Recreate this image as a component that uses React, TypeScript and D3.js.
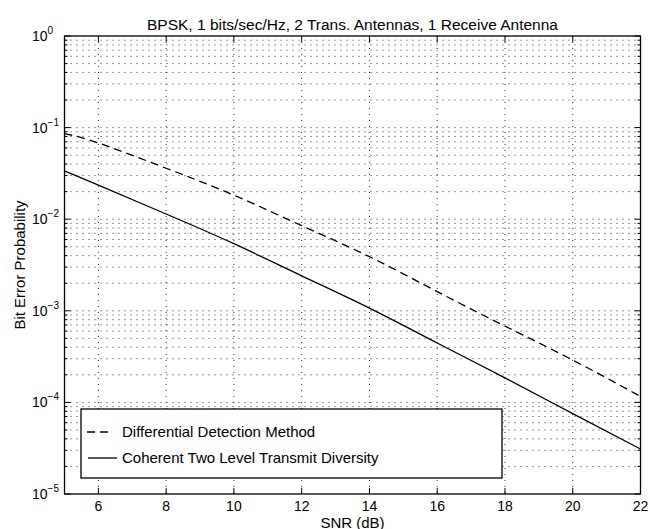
import React from "react";
import * as d3 from "d3";

const snr = [5, 6, 8, 10, 12, 14, 16, 18, 20, 22];
const differential = [0.086, 0.068, 0.036, 0.0183, 0.0085, 0.0039, 0.00162, 0.00068, 0.00029, 0.000116];
const coherent = [0.0337, 0.0235, 0.0114, 0.0054, 0.00241, 0.00107, 0.000445, 0.000185, 0.0000755, 0.000031];
const xTicks = [6, 8, 10, 12, 14, 16, 18, 20, 22];
const yExponents = [0, -1, -2, -3, -4, -5];
const title = "BPSK, 1 bits/sec/Hz, 2 Trans. Antennas, 1 Receive Antenna";
const xLabel = "SNR (dB)";
const yLabel = "Bit Error Probability";
const legendLabels = ["Differential Detection Method", "Coherent Two Level Transmit Diversity"];

const W = 650, H = 529;
const L = 64.5, R = 640.5, T = 36, B = 494;
const FONT = "'Liberation Sans', Arial, Helvetica, sans-serif";

export default function App() {
  const x = d3.scaleLinear().domain([5, 22]).range([L, R]);
  const y = d3.scaleLog().domain([1e-5, 1]).range([B, T]);

  const minorVals: number[] = [];
  for (let e = -5; e < 0; e++) {
    for (let m = 2; m <= 9; m++) minorVals.push(m * Math.pow(10, e));
  }
  const majorVals = yExponents.map((e) => Math.pow(10, e));

  const line = d3
    .line<number>()
    .x((_, i) => x(snr[i]))
    .y((d) => y(d))
    .curve(d3.curveNatural);

  const gridStyle = { stroke: "#333", strokeWidth: 1, strokeDasharray: "1,5" };

  return (
    <svg
      width={W}
      height={H}
      style={{ position: "absolute", left: 0, top: 0, background: "#fff" }}
      fontFamily={FONT}
    >
      <rect x={0} y={0} width={W} height={H} fill="#fff" />
      {/* grid */}
      {xTicks
        .filter((t) => t < 22)
        .map((t) => (
          <line key={"gx" + t} x1={x(t)} x2={x(t)} y1={T} y2={B} {...gridStyle} />
        ))}
      {[...minorVals, ...majorVals.filter((v) => v < 1 && v > 1e-5)].map((v, i) => (
        <line key={"gy" + i} x1={L} x2={R} y1={y(v)} y2={y(v)} {...gridStyle} />
      ))}
      {/* ticks */}
      {xTicks.map((t) => (
        <g key={"tx" + t}>
          <line x1={x(t)} x2={x(t)} y1={B} y2={B - 6} stroke="#000" />
          <line x1={x(t)} x2={x(t)} y1={T} y2={T + 6} stroke="#000" />
        </g>
      ))}
      {majorVals.map((v, i) => (
        <g key={"ty" + i}>
          <line x1={L} x2={L + 6} y1={y(v)} y2={y(v)} stroke="#000" />
          <line x1={R} x2={R - 6} y1={y(v)} y2={y(v)} stroke="#000" />
        </g>
      ))}
      {minorVals.map((v, i) => (
        <g key={"tm" + i}>
          <line x1={L} x2={L + 3} y1={y(v)} y2={y(v)} stroke="#000" />
          <line x1={R} x2={R - 3} y1={y(v)} y2={y(v)} stroke="#000" />
        </g>
      ))}
      {/* curves */}
      <path d={line(differential) || ""} fill="none" stroke="#000" strokeWidth={1.3} strokeDasharray="8,5" />
      <path d={line(coherent) || ""} fill="none" stroke="#000" strokeWidth={1.3} />
      {/* box */}
      <rect x={L} y={T} width={R - L} height={B - T} fill="none" stroke="#000" strokeWidth={1.3} />
      {/* legend */}
      <rect x={81} y={409} width={421} height={69} fill="#fff" stroke="#000" strokeWidth={1.3} />
      <line x1={87} x2={111} y1={432} y2={432} stroke="#000" strokeWidth={1.3} strokeDasharray="8,5" />
      <line x1={88} x2={117} y1={458} y2={458} stroke="#000" strokeWidth={1.3} />
      <text x={122} y={437} fontSize={15}>{legendLabels[0]}</text>
      <text x={122} y={463} fontSize={15}>{legendLabels[1]}</text>
      {/* x tick labels */}
      {xTicks.map((t) => (
        <text key={"lx" + t} x={x(t)} y={511} fontSize={14} textAnchor="middle">
          {t}
        </text>
      ))}
      {/* y tick labels */}
      {yExponents.map((e) => (
        <text key={"ly" + e} x={32} y={y(Math.pow(10, e)) + 5} fontSize={14}>
          10
          <tspan dy={-7} fontSize={10}>
            {e === 0 ? "0" : "\u2212" + Math.abs(e)}
          </tspan>
        </text>
      ))}
      <text x={(L + R) / 2} y={527.5} fontSize={15} textAnchor="middle">
        {xLabel}
      </text>
      <text
        transform={`translate(25, ${(T + B) / 2}) rotate(-90)`}
        fontSize={15}
        textAnchor="middle"
      >
        {yLabel}
      </text>
      <text x={(L + R) / 2} y={30} fontSize={15.5} textAnchor="middle">
        {title}
      </text>
    </svg>
  );
}
